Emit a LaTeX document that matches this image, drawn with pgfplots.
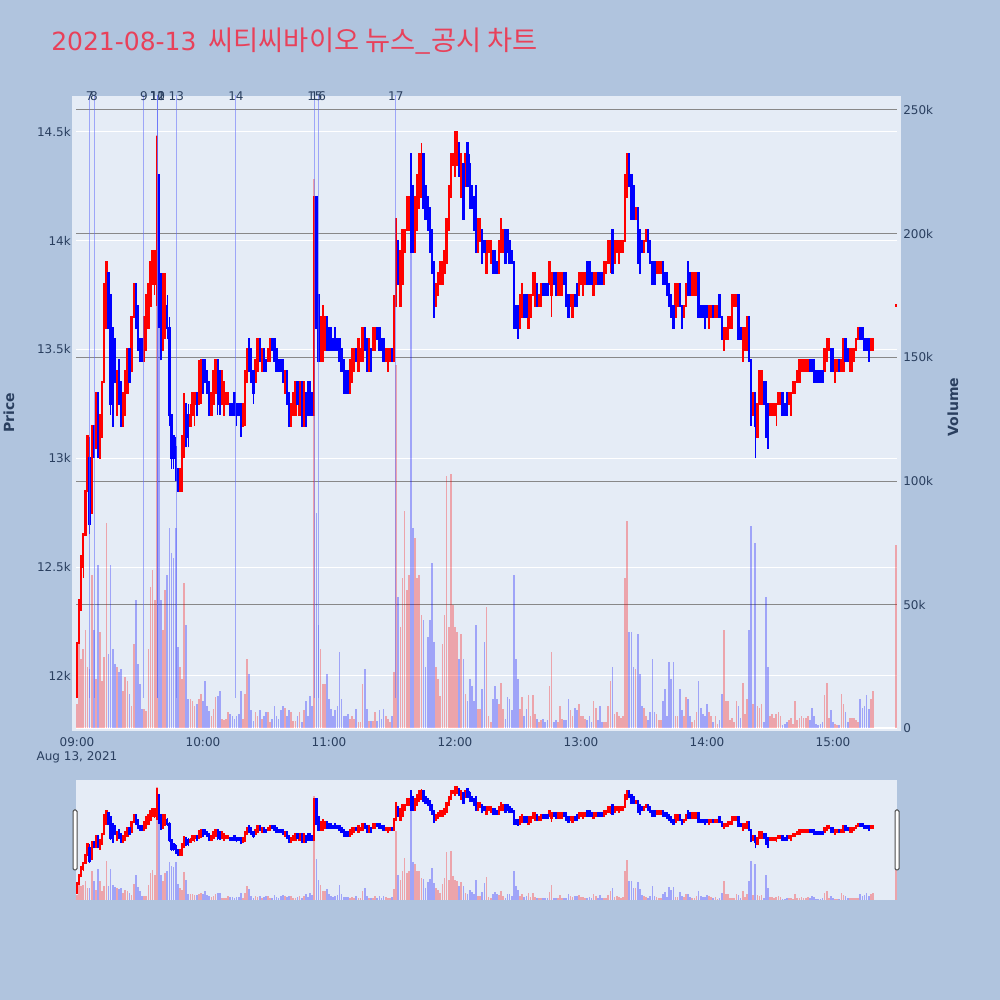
\documentclass[border=0pt]{standalone}
\usepackage{fontspec}
\setmainfont{DejaVu Sans}
\newfontfamily\krfont{Noto Sans CJK KR}
\usepackage{pgfplots}
\usepackage{pgfplotstable}
\pgfplotsset{compat=1.18}
\definecolor{lsb}{RGB}{176,196,222}
\definecolor{plotbg}{RGB}{229,236,246}
\definecolor{axtext}{RGB}{42,63,95}
\definecolor{titlered}{RGB}{232,65,90}
\definecolor{newsline}{RGB}{99,110,250}
\definecolor{vgrid}{RGB}{136,136,136}
\newcommand\ticksfont{\fontsize{9}{11}\selectfont}

\pgfplotstableread{
m o h l c v
0 11950 12150 11900 12150 10
1 12150 12350 12150 12350 44
2 12350 12550 12300 12550 28
3 12500 12650 12450 12650 32
4 12650 12850 12650 12850 40
5 12850 13100 12850 13100 25
6 13000 13100 12650 12700 24
7 12750 13150 12750 13150 62
8 13150 13150 13000 13050 40
9 13050 13300 13050 13300 20
10 13300 13300 13000 13050 66
11 13000 13200 13000 13200 39
12 13100 13350 13100 13350 19
13 13350 13800 13350 13800 29
14 13600 13900 13600 13900 83
15 13850 13850 13600 13600 30
16 13750 13750 13200 13250 66
17 13600 13600 13150 13150 32
18 13550 13550 13350 13350 26
19 13200 13400 13200 13400 25
20 13450 13450 13250 13250 23
21 13350 13350 13150 13150 24
22 13150 13300 13150 13300 15
23 13200 13400 13200 13400 21
24 13300 13500 13300 13500 19
25 13500 13500 13350 13350 14
26 13400 13650 13400 13650 9
27 13650 13800 13650 13800 34
28 13800 13800 13600 13600 52
29 13700 13700 13500 13500 26
30 13550 13550 13450 13450 18
31 13550 13550 13450 13450 8
32 13450 13650 13450 13650 8
33 13500 13750 13500 13750 7
34 13600 13800 13600 13800 32
35 13700 13900 13700 13900 57
36 13800 13950 13800 13950 64
37 13800 13950 13750 13950 52
38 13750 14480 13700 14450 240
39 14300 14300 13600 13650 222
40 13800 13850 13450 13500 52
41 13500 13850 13500 13800 40
42 13650 13850 13550 13700 56
43 13700 13750 13550 13600 62
44 13600 13650 13150 13200 81
45 13200 13200 12950 13000 71
46 13100 13100 12950 13000 69
47 13050 13100 12900 12900 81
48 12950 12950 12850 12850 33
49 12850 12950 12850 12950 25
50 12850 13100 12850 13100 20
51 13050 13300 13000 13250 59
52 13250 13250 13050 13100 42
53 13200 13250 13050 13100 12
54 13150 13250 13150 13200 12
55 13200 13300 13200 13300 11
56 13250 13300 13150 13300 9
57 13300 13300 13200 13200 10
58 13250 13450 13250 13400 12
59 13300 13450 13250 13450 14
60 13450 13450 13300 13300 11
61 13450 13450 13350 13350 19
62 13400 13400 13300 13300 9
63 13350 13350 13200 13200 7
64 13200 13300 13200 13300 5
65 13250 13400 13250 13400 8
66 13300 13450 13300 13450 12.6
67 13450 13450 13200 13250 13
68 13400 13400 13200 13250 15
69 13250 13400 13250 13400 4
70 13200 13350 13200 13350 3.4
71 13250 13300 13250 13300 4
72 13250 13300 13250 13300 6.7
73 13250 13250 13200 13200 6
74 13250 13250 13200 13200 5
75 13300 13300 13200 13200 4
76 13250 13250 13150 13200 5
77 13250 13250 13200 13200 6
78 13250 13250 13100 13150 15
79 13150 13250 13150 13250 4
80 13200 13400 13150 13400 14
81 13350 13500 13350 13500 28
82 13550 13550 13400 13400 22
83 13500 13500 13350 13350 7.5
84 13400 13400 13250 13300 3
85 13350 13450 13350 13450 6.7
86 13400 13550 13400 13550 5
87 13550 13550 13450 13450 7.5
88 13400 13500 13400 13500 4
89 13500 13500 13400 13400 5
90 13450 13450 13400 13400 6.7
91 13450 13500 13450 13500 6.7
92 13450 13550 13450 13550 2.5
93 13550 13550 13500 13500 4
94 13550 13550 13450 13450 9
95 13500 13500 13400 13400 5
96 13450 13450 13400 13400 4
97 13450 13450 13400 13400 7.5
98 13450 13450 13350 13350 9
99 13300 13400 13300 13400 8.4
100 13400 13400 13250 13250 5
101 13300 13300 13150 13150 7.5
102 13150 13250 13150 13250 6.7
103 13200 13300 13200 13300 3
104 13200 13350 13200 13350 3
105 13350 13350 13250 13250 5
106 13200 13350 13200 13350 6.7
107 13350 13350 13150 13150 2.5
108 13150 13350 13150 13350 7.5
109 13300 13300 13150 13150 11
110 13350 13350 13200 13200 5
111 13350 13350 13200 13200 13
112 13300 13300 13200 13200 9
113 13200 14200 13200 14200 222
114 14200 14200 13600 13600 87
115 13750 13750 13450 13450 42
116 13450 13650 13450 13650 32
117 13450 13700 13450 13700 18
118 13500 13650 13500 13650 18
119 13650 13650 13500 13500 22
120 13600 13600 13500 13500 12
121 13600 13600 13500 13500 8
122 13550 13550 13500 13500 5
123 13600 13600 13500 13500 7.5
124 13550 13550 13500 13500 9
125 13550 13550 13450 13450 31
126 13500 13500 13400 13400 12
127 13450 13450 13300 13300 5
128 13400 13400 13300 13300 5
129 13400 13400 13300 13300 6
130 13300 13450 13300 13450 4
131 13350 13500 13350 13500 5
132 13400 13500 13400 13500 4
133 13500 13500 13450 13450 8
134 13400 13550 13400 13550 2.5
135 13450 13500 13450 13500 2.5
136 13450 13600 13450 13600 18
137 13600 13600 13500 13500 24
138 13550 13550 13400 13400 8
139 13400 13550 13400 13550 3
140 13500 13500 13400 13400 3
141 13500 13600 13500 13600 3
142 13500 13600 13500 13600 6.7
143 13600 13600 13550 13550 3
144 13600 13600 13500 13500 7.5
145 13550 13550 13500 13500 4
146 13550 13550 13450 13450 8
147 13450 13500 13450 13500 5
148 13400 13500 13400 13500 4
149 13450 13500 13450 13500 2.5
150 13500 13500 13450 13450 5
151 13450 13750 13450 13650 23
152 13700 14100 13700 14100 147
153 14000 14000 13800 13800 53
154 13700 13950 13700 13950 41
155 13800 14050 13800 14050 61
156 13950 14050 13950 14050 88
157 14050 14200 14050 14200 56
158 14050 14200 14050 14200 62
159 14400 14400 13950 13950 220
160 14250 14250 13950 13950 81
161 13950 14200 13950 14200 77
162 14050 14300 14050 14300 61
163 14150 14400 14150 14400 62
164 14200 14450 14200 14400 46
165 14400 14400 14150 14150 44
166 14250 14250 14100 14100 25
167 14200 14200 14050 14050 37
168 14150 14150 13950 13950 44
169 14050 14050 13850 13850 67
170 13900 13900 13650 13650 35
171 13700 13800 13700 13800 25
172 13750 13850 13750 13850 20
173 13800 13900 13800 13900 13
174 13800 13900 13800 13900 34
175 13850 13950 13850 13950 46
176 13900 14100 13900 14100 102
177 14050 14250 14050 14250 41
178 14200 14400 14200 14400 103
179 14350 14400 14350 14400 50
180 14300 14500 14300 14500 41
181 14350 14500 14350 14500 39
182 14450 14450 14300 14300 28
183 14200 14400 14200 14400 38
184 14350 14350 14100 14100 28
185 14250 14400 14250 14400 14
186 14450 14450 14250 14250 11
187 14350 14400 14150 14150 20
188 14250 14250 14150 14150 17
189 14200 14200 14050 14050 11
190 14250 14250 13950 13950 42
191 13950 14100 13950 14100 8
192 14000 14100 14000 14100 8
193 14050 14050 13900 13900 16
194 14000 14000 13950 13950 35
195 13850 14000 13850 14000 49
196 13950 14000 13950 14000 5
197 13900 14000 13900 14000 2.5
198 13950 13950 13850 13850 12
199 13950 13950 13850 13850 17
200 13900 13900 13850 13850 12
201 13850 14000 13850 14000 10
202 13950 14100 13950 14100 18.5
203 13950 14050 13950 14050 8
204 14050 14050 13900 13900 4
205 14050 14050 13950 13950 12.6
206 14000 14000 13900 13900 12
207 13950 13950 13900 13900 7.5
208 13900 13900 13600 13600 62
209 13700 13700 13600 13600 28
210 13700 13700 13550 13600 20
211 13600 13750 13600 13750 8
212 13650 13800 13650 13800 12.6
213 13750 13750 13650 13650 5
214 13750 13750 13650 13650 8
215 13600 13750 13600 13750 13.4
216 13650 13750 13650 13750 5
217 13750 13850 13750 13850 13.4
218 13700 13850 13700 13850 6
219 13800 13800 13700 13700 4
220 13700 13750 13700 13750 2.5
221 13700 13800 13700 13800 3.4
222 13800 13800 13750 13750 4
223 13800 13800 13750 13750 2.5
224 13800 13800 13750 13750 3.4
225 13800 13900 13800 13900 17
226 13750 13850 13650 13850 31
227 13850 13850 13800 13800 2.5
228 13850 13850 13750 13750 3.4
229 13750 13850 13750 13850 2.5
230 13750 13850 13750 13850 9
231 13750 13850 13750 13850 4
232 13850 13850 13800 13800 3.4
233 13850 13850 13700 13700 3.4
234 13750 13750 13650 13650 12
235 13700 13750 13700 13750 7.5
236 13650 13750 13650 13750 5
237 13750 13750 13700 13700 8.4
238 13800 13800 13700 13700 7.5
239 13750 13850 13750 13850 10
240 13800 13850 13800 13850 5
241 13750 13850 13750 13850 5
242 13800 13850 13800 13850 4
243 13900 13900 13800 13800 3.4
244 13900 13900 13800 13800 5
245 13850 13850 13800 13800 2.5
246 13750 13850 13750 13850 11
247 13800 13850 13800 13850 8.4
248 13850 13850 13800 13800 3.4
249 13850 13850 13800 13800 9
250 13850 13850 13800 13800 2.5
251 13800 13900 13800 13900 2.5
252 13850 13900 13850 13900 2.5
253 13900 14000 13900 14000 9
254 13900 14000 13850 14000 19
255 14050 14050 13850 13850 25
256 13900 14000 13900 14000 6
257 13950 14000 13950 14000 6.7
258 13900 14000 13900 14000 5
259 13950 14000 13950 14000 4.2
260 13950 14000 13950 14000 5
261 14000 14300 14000 14300 61
262 14200 14400 14200 14400 84
263 14400 14400 14250 14250 39
264 14300 14300 14100 14100 39
265 14250 14250 14100 14100 25
266 14100 14150 14100 14150 24
267 14150 14150 13900 13900 38
268 14050 14050 13850 13850 22
269 14000 14000 13950 13950 9
270 13950 14000 13950 14000 8.4
271 14000 14050 14000 14050 5
272 14050 14050 13950 13950 3.4
273 14000 14000 13900 13900 6.7
274 13900 13900 13800 13800 28
275 13900 13900 13800 13800 6.7
276 13850 13900 13850 13900 6
277 13850 13900 13850 13900 3.4
278 13850 13900 13850 13900 3.4
279 13900 13900 13800 13800 11
280 13850 13850 13800 13800 16
281 13850 13850 13750 13750 5
282 13800 13800 13700 13700 27
283 13750 13750 13650 13650 20
284 13700 13700 13600 13600 27
285 13650 13800 13650 13800 5
286 13700 13800 13700 13800 5
287 13800 13800 13700 13700 16
288 13700 13700 13600 13600 7.5
289 13650 13700 13650 13700 5
290 13700 13800 13700 13800 12.6
291 13900 13900 13750 13750 12
292 13850 13850 13750 13750 5
293 13750 13850 13750 13850 2.5
294 13750 13850 13750 13850 3.4
295 13750 13850 13750 13850 6.7
296 13850 13850 13650 13650 19
297 13700 13700 13650 13650 8.4
298 13700 13700 13650 13650 6
299 13700 13700 13600 13600 5
300 13700 13700 13650 13650 10
301 13600 13700 13600 13700 6.7
302 13650 13700 13650 13700 5
303 13700 13700 13650 13650 2.5
304 13650 13700 13650 13700 5
305 13650 13700 13650 13700 2
306 13750 13750 13650 13650 3.4
307 13650 13650 13550 13550 14
308 13500 13600 13500 13600 40
309 13550 13600 13550 13600 11
310 13550 13650 13550 13650 11
311 13600 13650 13600 13650 3.4
312 13600 13750 13600 13750 4.2
313 13700 13750 13700 13750 2.5
314 13700 13750 13700 13750 11
315 13750 13750 13550 13550 9
316 13600 13600 13550 13550 4.2
317 13450 13600 13450 13600 18.5
318 13500 13600 13500 13600 6
319 13500 13650 13500 13650 12
320 13650 13650 13450 13450 40
321 13450 13450 13150 13200 82
322 13200 13300 13200 13300 10
323 13300 13300 13000 13150 75
324 13100 13250 13100 13250 9
325 13250 13400 13250 13400 8.4
326 13250 13400 13250 13400 10
327 13350 13350 13250 13250 2.5
328 13350 13350 13100 13100 53
329 13250 13250 13050 13050 25
330 13200 13250 13200 13250 5
331 13200 13250 13200 13250 6
332 13200 13250 13200 13250 4.2
333 13200 13250 13150 13250 6
334 13250 13300 13250 13300 6.7
335 13250 13300 13250 13300 5
336 13300 13300 13200 13200 1.5
337 13250 13250 13200 13200 2
338 13300 13300 13200 13200 2.5
339 13250 13300 13250 13300 3.4
340 13200 13300 13200 13300 4.2
341 13300 13350 13300 13350 2
342 13300 13350 13300 13350 11
343 13350 13400 13350 13400 3.4
344 13350 13450 13350 13450 4.2
345 13400 13450 13400 13450 5
346 13400 13450 13400 13450 4.2
347 13400 13450 13400 13450 4.2
348 13400 13450 13400 13450 5
349 13450 13450 13400 13400 3.4
350 13450 13450 13400 13400 8.4
351 13450 13450 13350 13350 5
352 13400 13400 13350 13350 2
353 13400 13400 13350 13350 1.5
354 13400 13400 13350 13350 2
355 13400 13400 13350 13350 2.5
356 13400 13500 13400 13500 13.4
357 13450 13550 13450 13550 18.5
358 13500 13550 13500 13550 4.2
359 13500 13500 13400 13400 7.5
360 13500 13500 13400 13400 2.5
361 13350 13450 13350 13450 2
362 13400 13450 13400 13450 1.5
363 13450 13450 13400 13400 1.5
364 13400 13450 13400 13450 14
365 13400 13550 13400 13550 10
366 13550 13550 13450 13450 6.7
367 13500 13500 13450 13450 2.5
368 13400 13500 13400 13500 4.2
369 13400 13500 13400 13500 4.2
370 13450 13500 13450 13500 4.2
371 13500 13550 13500 13550 3.4
372 13550 13600 13550 13600 2.5
373 13600 13600 13550 13550 12
374 13600 13600 13550 13550 8.4
375 13550 13550 13500 13500 9.2
376 13550 13550 13500 13500 13.4
377 13550 13550 13450 13450 8
378 13500 13550 13500 13550 12
379 13500 13550 13500 13550 15
390 13700 13705 13700 13705 74
}\kdata

\pgfplotstableread{
m lab
6.05 7
8.1 8
31.9 9
38.3 10
38.3 11
38.3 12
47.3 13
75.7 14
113.3 15
114.9 16
151.8 17
}\newsdata

% px -> pt: x*0.75, (1000-y)*0.75
\pgfplotsset{
  geom/.style={scale only axis, width=615.75pt, xmin=-0.476, xmax=390.48, at={(57pt,#1)}, anchor=south west,
    scaled y ticks=false, scaled x ticks=false},
  cwick/.style={draw=none, mark=none, forget plot, restrict y to domain=0:20000,
    error bars/.cd, y dir=plus, y explicit, error mark=none,
    error bar style={draw=#1, line width=1.1pt}},
  cbody/.style={draw=none, mark=none, forget plot, restrict y to domain=0:20000,
    error bars/.cd, y dir=plus, y explicit, error mark=none,
    error bar style={draw=#1, line width=1.7pt, line cap=rect}},
  vbar/.style={ycomb, draw=#1, draw opacity=0.3, line width=1.26pt, mark=none, forget plot, restrict y to domain=0:1000},
}

\newcommand\candles{%
  \addplot[cwick=red] table[x=m, y expr={\thisrow{c}>=\thisrow{o} ? \thisrow{l} : -1000}, y error expr={\thisrow{h}-\thisrow{l}}] {\kdata};
  \addplot[cwick=blue] table[x=m, y expr={\thisrow{c}<\thisrow{o} ? \thisrow{l} : -1000}, y error expr={\thisrow{h}-\thisrow{l}}] {\kdata};
  \addplot[cbody=red] table[x=m, y expr={\thisrow{c}>=\thisrow{o} ? \thisrow{o} : -1000}, y error expr={\thisrow{c}-\thisrow{o}}] {\kdata};
  \addplot[cbody=blue] table[x=m, y expr={\thisrow{c}<\thisrow{o} ? \thisrow{c} : -1000}, y error expr={\thisrow{o}-\thisrow{c}}] {\kdata};
}
\newcommand\volumes{%
  \addplot[vbar=red] table[x=m, y expr={\thisrow{c}>=\thisrow{o} ? \thisrow{v} : -5}] {\kdata};
  \addplot[vbar=blue] table[x=m, y expr={\thisrow{c}<\thisrow{o} ? \thisrow{v} : -5}] {\kdata};
}

\begin{document}
\begin{tikzpicture}
\useasboundingbox (0,0) rectangle (750pt,750pt);
\begin{scope}[x=0.75pt,y=-0.75pt,yshift=750pt]
\fill[lsb] (0,0) rectangle (1000,1000);
\fill[plotbg] (72,96) rectangle (901,731);
\fill[plotbg] (76,780) rectangle (897,900);
\node[anchor=base west, inner sep=0pt, text=titlered, font=\fontsize{18.75}{22}\selectfont] at (51,51) {2021-08-13\hspace{3pt} {\krfont\fontsize{20.5}{24}\selectfont 씨티씨바이오 뉴스\_공시 차트}};
\end{scope}

% price grid and ticks
\begin{axis}[geom=201.75pt, height=476.25pt, ymin=11747, ymax=14665,
  axis line style={draw=none}, major tick length=0pt,
  ytick={12000,12500,...,14500}, yticklabels={12k,12.5k,13k,13.5k,14k,14.5k},
  xtick={0,60,...,360}, xticklabels={09:00,10:00,11:00,12:00,13:00,14:00,15:00},
  ymajorgrids, major grid style={white, line width=0.75pt},
  tick label style={font=\ticksfont, text=axtext},
  yticklabel style={anchor=east, inner sep=0pt, xshift=-3.75pt},
  xticklabel style={anchor=base, inner sep=0pt, yshift=-11.5pt}]
\end{axis}

% volume axis
\begin{axis}[geom=201.75pt, height=476.25pt, ymin=-1.01, ymax=255.66,
  axis line style={draw=none}, major tick length=0pt, xtick=\empty,
  ytick={50,100,...,250}, yticklabels={50k,100k,150k,200k,250k},
  extra y ticks={0}, extra y tick labels={0},
  extra y tick style={major grid style={white, line width=1.5pt}},
  yticklabel pos=right, ymajorgrids, major grid style={vgrid, line width=0.75pt},
  tick label style={font=\ticksfont, text=axtext},
  yticklabel style={anchor=west, inner sep=0pt, xshift=4.5pt}]
\volumes
\end{axis}

% candles and news
\begin{axis}[geom=201.75pt, height=476.25pt, ymin=11747, ymax=14665, hide axis, clip mode=individual]
\candles
\addplot[draw=none, mark=none, forget plot, error bars/.cd, y dir=plus, y explicit, error mark=none,
  error bar style={draw=newsline, draw opacity=0.55, line width=0.75pt}]
  table[x=m, y expr=11900, y error expr=2800] {\newsdata};
\addplot[only marks, mark=none, forget plot, nodes near coords, point meta=explicit symbolic,
  nodes near coords align=center,
  every node near coord/.style={anchor=center, inner sep=0pt, font=\ticksfont, text=axtext}]
  table[x=m, y expr=14665, meta=lab] {\newsdata};
\end{axis}

% range slider
\begin{axis}[geom=75pt, height=90pt, ymin=-1.01, ymax=255.66, hide axis]
\volumes
\end{axis}
\begin{axis}[geom=75pt, height=90pt, ymin=11747, ymax=14665, hide axis]
\candles
\end{axis}

\begin{scope}[x=0.75pt,y=-0.75pt,yshift=750pt]
\draw[fill=white, draw=black!70, line width=0.75pt, rounded corners=1pt] (73,810) rectangle (77,870);
\draw[fill=white, draw=black!70, line width=0.75pt, rounded corners=1pt] (895,810) rectangle (899,870);
\node[anchor=base, inner sep=0pt, font=\ticksfont, text=axtext] at (77,761) {Aug 13, 2021};
\node[rotate=90, inner sep=0pt, font=\bfseries\fontsize{10.5}{12}\selectfont, text=axtext] at (9,413) {Price};
\node[rotate=90, inner sep=0pt, font=\bfseries\fontsize{10.5}{12}\selectfont, text=axtext] at (953,407) {Volume};
\end{scope}
\end{tikzpicture}
\end{document}
